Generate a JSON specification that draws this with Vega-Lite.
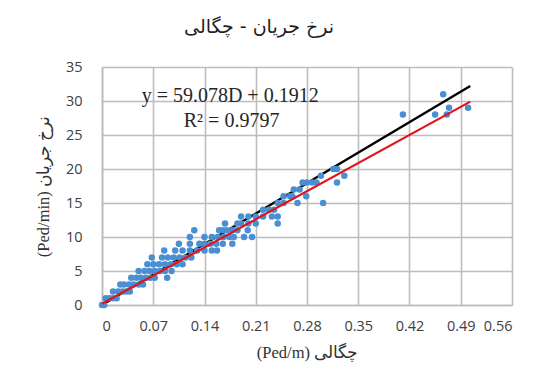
{
  "$schema": "https://vega.github.io/schema/vega-lite/v6.json",
  "autosize": {"type": "none"},
  "width": 410,
  "height": 238,
  "padding": {"left": 102, "top": 67, "right": 28, "bottom": 71},
  "background": "white",
  "config": {
    "view": {"stroke": null},
    "axis": {
      "gridColor": "#bdbdbd",
      "gridWidth": 1.6,
      "domainColor": "#bdbdbd",
      "domainWidth": 1.6,
      "ticks": false,
      "labelFont": "Open Sans",
      "labelFontSize": 14.5,
      "labelColor": "#404040",
      "titleFont": "Liberation Serif",
      "titleFontSize": 16.5,
      "titleFontWeight": "normal",
      "titleColor": "#303030"
    }
  },
  "title": {
    "text": "نرخ جریان - چگالی",
    "font": "DejaVu Sans",
    "fontSize": 19,
    "fontWeight": "normal",
    "color": "#1f1f1f",
    "anchor": "middle",
    "dx": -48,
    "offset": 22
  },
  "datasets": {
    "points": [
      {"d": 0.0, "q": 0}, {"d": 0.003, "q": 0},
      {"d": 0.005, "q": 1}, {"d": 0.01, "q": 1}, {"d": 0.015, "q": 1}, {"d": 0.02, "q": 1},
      {"d": 0.015, "q": 2}, {"d": 0.022, "q": 2}, {"d": 0.028, "q": 2}, {"d": 0.033, "q": 2}, {"d": 0.038, "q": 2},
      {"d": 0.025, "q": 3}, {"d": 0.03, "q": 3}, {"d": 0.037, "q": 3}, {"d": 0.043, "q": 3}, {"d": 0.05, "q": 3}, {"d": 0.056, "q": 3},
      {"d": 0.04, "q": 4}, {"d": 0.047, "q": 4}, {"d": 0.053, "q": 4}, {"d": 0.06, "q": 4}, {"d": 0.066, "q": 4}, {"d": 0.072, "q": 4}, {"d": 0.089, "q": 4},
      {"d": 0.05, "q": 5}, {"d": 0.058, "q": 5}, {"d": 0.065, "q": 5}, {"d": 0.072, "q": 5}, {"d": 0.079, "q": 5}, {"d": 0.086, "q": 5}, {"d": 0.095, "q": 5},
      {"d": 0.062, "q": 6}, {"d": 0.07, "q": 6}, {"d": 0.078, "q": 6}, {"d": 0.086, "q": 6}, {"d": 0.094, "q": 6}, {"d": 0.102, "q": 6}, {"d": 0.11, "q": 6},
      {"d": 0.068, "q": 7}, {"d": 0.082, "q": 7}, {"d": 0.09, "q": 7}, {"d": 0.098, "q": 7}, {"d": 0.106, "q": 7}, {"d": 0.114, "q": 7}, {"d": 0.122, "q": 7},
      {"d": 0.085, "q": 8}, {"d": 0.1, "q": 8}, {"d": 0.11, "q": 8}, {"d": 0.12, "q": 8}, {"d": 0.13, "q": 8}, {"d": 0.14, "q": 8}, {"d": 0.15, "q": 8}, {"d": 0.157, "q": 8},
      {"d": 0.105, "q": 9}, {"d": 0.12, "q": 9}, {"d": 0.133, "q": 9}, {"d": 0.14, "q": 9}, {"d": 0.148, "q": 9}, {"d": 0.156, "q": 9}, {"d": 0.165, "q": 9}, {"d": 0.178, "q": 9},
      {"d": 0.12, "q": 10}, {"d": 0.14, "q": 10}, {"d": 0.15, "q": 10}, {"d": 0.158, "q": 10}, {"d": 0.166, "q": 10}, {"d": 0.174, "q": 10}, {"d": 0.18, "q": 10}, {"d": 0.194, "q": 10}, {"d": 0.205, "q": 10},
      {"d": 0.126, "q": 11}, {"d": 0.16, "q": 11}, {"d": 0.165, "q": 11}, {"d": 0.17, "q": 11}, {"d": 0.178, "q": 11}, {"d": 0.185, "q": 11}, {"d": 0.199, "q": 11},
      {"d": 0.168, "q": 12}, {"d": 0.185, "q": 12}, {"d": 0.19, "q": 12}, {"d": 0.2, "q": 12}, {"d": 0.21, "q": 12}, {"d": 0.24, "q": 12},
      {"d": 0.19, "q": 13}, {"d": 0.2, "q": 13}, {"d": 0.21, "q": 13}, {"d": 0.22, "q": 13}, {"d": 0.232, "q": 13}, {"d": 0.24, "q": 13},
      {"d": 0.22, "q": 14}, {"d": 0.228, "q": 14}, {"d": 0.235, "q": 14},
      {"d": 0.24, "q": 15}, {"d": 0.248, "q": 15}, {"d": 0.267, "q": 15}, {"d": 0.302, "q": 15},
      {"d": 0.248, "q": 16}, {"d": 0.257, "q": 16}, {"d": 0.26, "q": 16}, {"d": 0.279, "q": 16},
      {"d": 0.262, "q": 17}, {"d": 0.27, "q": 17},
      {"d": 0.274, "q": 18}, {"d": 0.28, "q": 18}, {"d": 0.287, "q": 18}, {"d": 0.293, "q": 18}, {"d": 0.321, "q": 18},
      {"d": 0.299, "q": 19}, {"d": 0.331, "q": 19},
      {"d": 0.316, "q": 20}, {"d": 0.321, "q": 20},
      {"d": 0.411, "q": 28}, {"d": 0.455, "q": 28}, {"d": 0.471, "q": 28},
      {"d": 0.474, "q": 29}, {"d": 0.5, "q": 29},
      {"d": 0.466, "q": 31}
    ],
    "observed": [
      {"d": 0.0, "q": 0.0},
      {"d": 0.503, "q": 32.2}
    ],
    "fit": [
      {"d": 0.0, "q": 0.1912},
      {"d": 0.503, "q": 29.908}
    ],
    "labels": [
      {"d": 0.175, "q": 30.8, "label": "y = 59.078D + 0.1912"},
      {"d": 0.177, "q": 27.1, "label": "R² = 0.9797"}
    ]
  },
  "encoding": {
    "x": {
      "field": "d", "type": "quantitative",
      "scale": {"domain": [0, 0.56], "nice": false},
      "axis": {
        "values": [0, 0.07, 0.14, 0.21, 0.28, 0.35, 0.42, 0.49, 0.56],
        "format": ".2~f",
        "labelPadding": 14,
        "title": "(Ped/m) چگالی",
        "titlePadding": 12
      }
    },
    "y": {
      "field": "q", "type": "quantitative",
      "scale": {"domain": [0, 35], "nice": false},
      "axis": {
        "values": [0, 5, 10, 15, 20, 25, 30, 35],
        "labelPadding": 20,
        "title": "(Ped/min) نرخ جریان",
        "titlePadding": 14
      }
    }
  },
  "layer": [
    {
      "data": {"name": "observed"},
      "mark": {"type": "line", "strokeWidth": 2.4, "color": "#000000"},
      "encoding": {}
    },
    {
      "data": {"name": "points"},
      "mark": {"type": "point", "filled": true, "size": 42, "color": "#4a8fd2", "opacity": 1}
    },
    {
      "data": {"name": "fit"},
      "mark": {"type": "line", "strokeWidth": 2.2, "color": "#e0141b"},
      "encoding": {}
    },
    {
      "data": {"name": "labels"},
      "mark": {"type": "text", "font": "Liberation Serif", "fontSize": 20, "color": "#262626", "baseline": "middle", "align": "center"},
      "encoding": {
        "text": {"field": "label"}
      }
    }
  ]
}
